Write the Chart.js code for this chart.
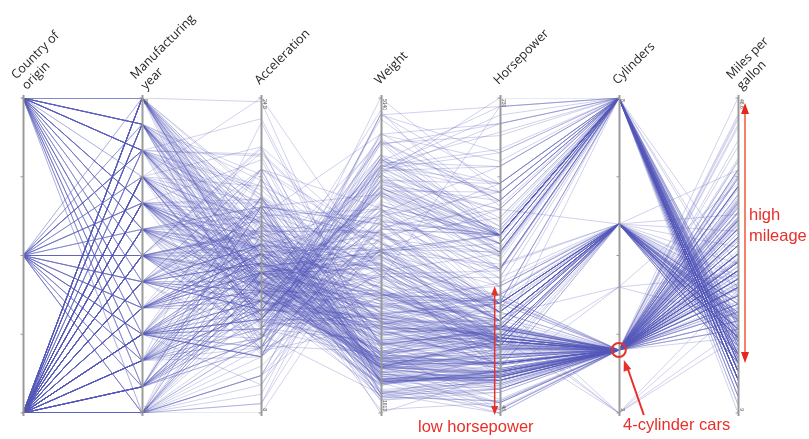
<!DOCTYPE html>
<html>
<head>
<meta charset="utf-8">
<script src="https://cdn.jsdelivr.net/npm/chart.js@4.4.0/dist/chart.umd.min.js"></script>
<style>
  body { margin: 0; background: #fff; }
  #wrap { width: 809px; height: 439px; }
</style>
</head>
<body>
<div id="wrap"><canvas id="myChart" width="809" height="439"></canvas></div>
<script>
// axis titles (one entry per line)
var dims = [['Country of', 'origin'], ['Manufacturing', 'year'], ['Acceleration'], ['Weight'], ['Horsepower'], ['Cylinders'], ['Miles per', 'gallon']];

// one value per car, grouped by model year 70..82
var origin = [
  1,1,1,1,1,1,1,1,1,1,1,1,1,1,3,1,1,1,3,2,2,2,2,2,1,1,1,1,1,
  3,1,3,1,1,1,1,1,1,1,1,1,1,1,1,1,1,1,1,1,2,2,2,3,3,2,1,
  3,1,2,1,1,1,1,1,1,1,1,1,1,1,3,1,1,1,1,2,2,2,2,1,3,3,1,3,
  1,1,1,1,1,1,1,1,1,1,1,1,1,1,1,1,1,2,1,1,1,1,1,3,1,3,3,1,1,2,1,1,2,2,2,2,1,2,3,1,
  1,1,1,3,1,3,1,1,1,1,1,1,1,1,1,2,2,2,3,3,1,2,2,3,3,2,
  1,1,1,1,1,1,1,1,1,1,1,1,1,1,1,3,1,1,1,3,2,3,1,2,1,2,2,2,2,3,
  2,2,1,1,2,1,1,1,1,1,1,1,1,1,1,2,3,1,1,1,1,2,3,3,1,2,1,2,3,2,1,1,1,1,
  3,1,2,1,3,1,1,1,1,1,1,1,1,1,1,1,1,2,1,3,1,1,1,3,2,3,2,3,
  2,1,3,3,3,1,1,1,1,1,1,1,1,1,1,1,1,1,1,1,1,1,1,3,3,1,3,1,1,3,2,2,2,2,2,3,
  1,1,1,1,1,1,1,1,1,1,1,1,1,2,3,1,1,2,1,2,1,1,1,3,2,1,1,1,1,
  2,3,1,3,1,1,1,1,2,3,3,3,3,3,1,3,2,2,2,2,3,3,2,3,3,2,3,
  1,1,1,1,1,3,1,3,3,3,3,3,1,1,1,2,3,3,3,3,2,2,3,3,1,1,1,1,
  1,1,1,1,1,1,1,2,3,3,1,1,3,3,3,3,3,3,1,1,1,1,3,1,1,1,2,1,1,1
];
var year = [
  70,70,70,70,70,70,70,70,70,70,70,70,70,70,70,70,70,70,70,70,70,70,70,70,70,70,70,70,70,
  71,71,71,71,71,71,71,71,71,71,71,71,71,71,71,71,71,71,71,71,71,71,71,71,71,71,71,
  72,72,72,72,72,72,72,72,72,72,72,72,72,72,72,72,72,72,72,72,72,72,72,72,72,72,72,72,
  73,73,73,73,73,73,73,73,73,73,73,73,73,73,73,73,73,73,73,73,73,73,73,73,73,73,73,73,73,73,73,73,73,73,73,73,73,73,73,73,
  74,74,74,74,74,74,74,74,74,74,74,74,74,74,74,74,74,74,74,74,74,74,74,74,74,74,
  75,75,75,75,75,75,75,75,75,75,75,75,75,75,75,75,75,75,75,75,75,75,75,75,75,75,75,75,75,75,
  76,76,76,76,76,76,76,76,76,76,76,76,76,76,76,76,76,76,76,76,76,76,76,76,76,76,76,76,76,76,76,76,76,76,
  77,77,77,77,77,77,77,77,77,77,77,77,77,77,77,77,77,77,77,77,77,77,77,77,77,77,77,77,
  78,78,78,78,78,78,78,78,78,78,78,78,78,78,78,78,78,78,78,78,78,78,78,78,78,78,78,78,78,78,78,78,78,78,78,78,
  79,79,79,79,79,79,79,79,79,79,79,79,79,79,79,79,79,79,79,79,79,79,79,79,79,79,79,79,79,
  80,80,80,80,80,80,80,80,80,80,80,80,80,80,80,80,80,80,80,80,80,80,80,80,80,80,80,
  81,81,81,81,81,81,81,81,81,81,81,81,81,81,81,81,81,81,81,81,81,81,81,81,81,81,81,81,
  82,82,82,82,82,82,82,82,82,82,82,82,82,82,82,82,82,82,82,82,82,82,82,82,82,82,82,82,82,82
];
var accel = [
  12,11.5,11,12,10.5,10,9,8.5,10,8.5,10,8,9.5,10,15,15.5,15.5,16,14.5,20.5,17.5,14.5,17.5,12.5,15,14,15,13.5,18.5,
  14.5,15.5,14,13,15.5,15.5,15.5,15.5,12,11.5,13.5,13,11.5,12,12,13.5,19,15,14.5,14,14,19.5,14.5,19,18,19,20.5,
  15.5,17,23.5,19.5,16.5,12,12,13.5,13,11.5,11,13.5,13.5,12.5,13.5,12.5,14,16,14,14.5,18,19.5,18,16,17,14.5,15,16.5,
  13,11.5,13,14.5,12.5,11.5,12,13,14.5,11,11,11,16.5,18,16,16.5,16,21,14,12.5,13,12.5,15,19,19.5,16.5,13.5,18.5,14,15.5,13,9.5,19.5,15.5,14,15.5,11,14,13.5,11,
  16.5,16,17,19,16.5,21,17,17,18,16.5,14,14.5,13.5,16,15.5,16.5,15.5,14.5,16.5,19,14.5,15.5,14,15,15.5,16,
  16,16,21,19.5,11.5,14,14.5,13.5,21,18.5,19,19,15,13.5,12,16,17,16,18.5,13.5,16.5,17,14.5,14,17,15,17,14.5,13.5,17.5,
  15.5,16.9,14.9,17.7,15.3,13,13,13.9,12.8,15.4,14.5,17.6,17.6,22.2,22.1,14.2,17.4,17.7,21,16.2,17.8,12.2,17,16.4,13.6,15.7,13.2,21.9,15.5,16.7,12.1,12,15,14,
  18.5,14.8,18.6,15.5,16.8,12.5,19,13.7,14.9,16.4,16.9,17.7,19,11.1,11.4,12.2,14.5,14.5,16,18.2,15.8,17,15.9,16.4,14.1,14.5,12.8,13.5,
  21.5,14.4,19.4,18.6,16.4,15.5,13.2,12.8,19.2,18.2,15.8,15.4,17.2,17.2,15.8,16.7,18.7,15.1,13.2,13.4,11.2,13.7,16.5,14.2,14.7,14.5,14.8,16.7,17.6,14.9,15.9,13.6,15.7,15.8,14.9,16.6,
  15.4,18.2,17.3,18.2,16.6,15.4,13.4,13.2,15.2,14.9,14.3,15,13,14,15.2,14.4,15,20.1,17.4,24.8,22.2,13.2,14.9,19.2,14.7,16,11.3,12.9,13.2,
  14.7,18.8,15.5,16.4,16.5,18.1,20.1,18.7,15.8,15.5,17.5,15,15.2,17.9,14.4,19.2,21.7,23.7,19.9,21.8,13.8,18,15.3,11.4,12.5,15.1,17,
  15.7,16.4,14.4,12.6,12.9,16.9,16.4,16.1,17.8,19.4,17.3,16,14.9,16.2,20.7,14.2,14.4,16.8,14.8,18.3,20.4,19.6,12.6,13.8,15.8,19,17.1,16.6,
  19.6,18.6,18,16.2,16,18,16.4,15.3,18.2,17.6,14.7,17.3,14.5,14.5,16.9,15,15.7,16.2,16.4,17,14.5,14.7,13.9,13,17.3,15.6,24.6,11.6,18.6,19.4
];
var weight = [
  3504,3693,3436,3433,3449,4341,4354,4312,4425,3850,3563,3609,3761,3086,2372,2833,2774,2587,2130,1835,2672,2430,2375,2234,2648,4615,4376,4382,4732,
  2130,2264,2228,2634,3439,3329,3302,3288,4209,4464,4154,4096,4955,4746,5140,2962,2408,3282,3139,2220,2123,2074,2065,1773,1613,1834,1955,
  2278,2126,2254,2408,2226,4274,4385,4135,4129,3672,4633,4502,4456,4422,2330,3892,4098,4294,4077,2933,2511,2979,2189,2395,2288,2506,2164,2100,
  4100,3672,3988,4042,3777,4952,4464,4363,4237,4735,4951,3821,3121,3278,2945,3021,2904,1950,4997,4906,4654,4499,2789,2279,2401,2379,2124,2310,2472,2265,4082,4278,1867,2158,2582,2868,3399,2660,2807,3664,
  3102,2901,3336,1950,2451,1836,2542,3781,3632,3613,4141,4699,4457,4638,4257,2219,1963,2300,1649,2003,2125,2108,2246,2489,2391,2000,
  3264,3459,3432,3158,4668,4440,4498,4657,3907,3897,3730,3785,3039,3221,3169,2171,2639,2914,2592,2702,2223,2545,2984,1937,3211,2694,2957,2945,2671,1795,
  2464,2220,2572,2255,2202,4215,4190,3962,4215,3233,3353,3012,3085,2035,2164,1937,1795,3651,3574,3645,3193,1825,1990,2155,2565,3150,3940,3270,2930,3820,4380,4055,3870,3755,
  2045,2155,1825,2300,1945,3880,4060,4140,4295,3520,3425,3630,3525,4220,4165,4325,4335,1940,2740,2265,2755,2051,2075,1985,2190,2815,2600,2720,
  1985,1800,1985,2070,1800,3365,3735,3570,3535,3155,2965,2720,3430,3210,3380,3070,3620,3410,3425,3445,3205,4080,2155,2560,2300,2230,2515,2745,2855,2405,2830,3140,2795,3410,1990,2135,
  3245,2990,2890,3265,3360,3840,3725,3955,3830,4360,4054,3605,3940,1925,1975,1915,2670,3530,3900,3190,3420,2200,2150,2020,2130,2670,2595,2700,2556,
  2144,1968,2120,2019,2678,2870,3003,3381,2188,2711,2542,2434,2265,2110,2800,2110,2085,2335,2950,3250,1850,2145,1845,2910,2420,2500,2290,
  2490,2635,2620,2725,2385,1755,1875,1760,2065,1975,2050,1985,2215,2045,2380,2190,2210,2350,2615,2635,3230,3160,2900,2930,3415,3725,3060,3465,
  2605,2640,2395,2575,2525,2735,2865,1980,2025,1970,2125,2125,2160,2205,2245,1965,1965,1995,2945,3015,2585,2835,2665,2370,2950,2790,2130,2295,2625,2720
];
var horsepower = [
  130,165,150,150,140,198,220,215,225,190,170,160,150,225,95,95,97,85,88,46,87,90,95,113,90,215,200,210,193,
  88,90,95,100,105,100,88,100,165,175,153,150,180,170,175,110,72,100,88,86,90,70,76,65,69,60,70,
  95,80,54,90,86,165,175,150,153,150,208,155,160,190,97,150,130,140,150,112,76,87,69,86,92,97,80,88,
  175,150,145,137,150,198,150,158,150,215,225,175,105,100,100,88,95,46,150,167,170,180,100,88,72,94,90,85,107,90,145,230,49,75,91,112,150,110,122,180,
  95,100,100,67,80,65,75,100,110,105,140,150,150,140,150,83,67,78,52,61,75,75,75,97,93,67,
  95,105,72,72,170,145,150,148,110,105,110,95,110,110,129,75,83,100,78,96,71,97,97,70,90,95,88,98,115,53,
  86,81,92,79,83,140,150,120,152,100,105,81,90,52,60,70,53,100,78,110,95,71,70,75,72,102,150,88,108,120,180,145,130,150,
  68,80,58,96,70,145,110,145,130,110,105,100,98,180,170,190,149,78,88,75,89,63,83,67,78,97,110,110,
  48,66,52,70,60,110,140,139,105,95,85,88,100,90,105,85,110,120,145,165,139,140,68,95,97,75,95,105,85,97,103,125,115,133,71,68,
  115,85,88,90,110,130,129,138,135,155,142,125,150,71,65,80,80,77,125,71,90,70,70,65,69,90,115,115,90,
  76,60,70,65,90,88,90,90,78,90,75,92,75,65,105,65,48,48,67,67,67,67,62,132,100,88,72,
  84,84,92,110,84,58,64,60,67,65,62,68,63,65,65,74,75,75,100,74,80,76,116,120,110,105,88,85,
  88,88,88,85,84,90,92,74,68,68,63,70,88,75,70,67,67,67,110,85,92,112,96,84,90,86,52,84,79,82
];
var cylinders = [
  8,8,8,8,8,8,8,8,8,8,8,8,8,8,4,6,6,6,4,4,4,4,4,4,6,8,8,8,8,
  4,4,4,6,6,6,6,6,8,8,8,8,8,8,8,6,4,6,6,4,4,4,4,4,4,4,4,
  4,4,4,4,4,8,8,8,8,8,8,8,8,8,3,8,8,8,8,4,4,4,4,4,4,4,4,4,
  8,8,8,8,8,8,8,8,8,8,8,8,6,6,6,6,6,4,8,8,8,8,6,4,4,4,3,4,6,4,8,8,4,4,4,4,8,4,6,8,
  6,6,6,4,4,4,4,6,6,6,8,8,8,8,8,4,4,4,4,4,4,4,4,4,4,4,
  6,6,6,6,8,8,8,8,6,6,6,6,6,8,8,4,4,6,4,4,4,4,6,4,6,4,4,4,4,4,
  4,4,4,4,4,8,8,8,8,6,6,6,6,4,4,4,4,6,6,6,6,4,4,4,4,4,8,4,6,6,8,8,8,8,
  4,4,4,4,4,8,8,8,8,6,6,6,6,8,8,8,8,4,4,4,4,4,4,4,4,6,4,3,
  4,4,4,4,4,8,8,8,6,6,6,4,6,6,6,6,6,6,8,6,8,8,4,4,4,4,4,4,4,4,5,6,4,6,4,4,
  6,6,4,6,6,8,8,8,8,8,8,8,8,4,4,4,4,5,8,4,8,4,4,4,4,4,6,6,4,
  4,4,4,4,4,4,4,6,4,4,4,4,4,4,4,4,4,4,5,4,4,4,4,6,3,4,4,
  4,4,4,6,4,4,4,4,4,4,4,4,4,4,4,4,4,4,4,4,4,6,6,6,6,8,6,6,
  4,4,4,4,4,4,4,4,4,4,4,4,4,4,4,4,4,4,6,6,4,6,4,4,4,4,4,4,4,4
];
var mpg = [
  18,15,18,16,17,15,14,14,14,15,15,14,15,14,24,22,18,21,27,26,25,24,25,26,21,10,10,11,9,
  27,28,25,19,16,17,19,18,14,14,14,14,12,13,13,18,22,19,18,23,28,30,30,31,35,27,26,
  24,25,23,20,21,13,14,15,14,17,11,13,12,13,19,15,13,13,14,18,22,21,26,22,28,23,28,27,
  13,14,13,14,15,12,13,13,14,13,12,13,18,16,18,18,23,26,11,12,13,12,18,20,21,22,18,19,21,26,15,16,29,24,20,19,15,24,20,11,
  20,19,15,31,26,32,25,16,16,18,16,13,14,14,14,29,26,26,31,32,28,24,26,24,26,31,
  19,18,15,15,16,15,16,14,17,16,15,18,21,20,13,29,23,20,23,24,25,24,18,29,19,23,23,22,25,33,
  28,25,25,26,27,17.5,16,15.5,14.5,22,22,24,22.5,29,24.5,29,33,20,18,18.5,17.5,29.5,32,28,26.5,20,13,19,19,16.5,16.5,13,13,13,
  31.5,30,36,25.5,33.5,17.5,17,15.5,15,17.5,20.5,19,18.5,16,15.5,15.5,16,29,24.5,26,25.5,30.5,33.5,30,30.5,22,21.5,21.5,
  43.1,36.1,32.8,39.4,36.1,19.9,19.4,20.2,19.2,20.5,20.2,25.1,20.5,19.4,20.6,20.8,18.6,18.1,19.2,17.7,18.1,17.5,30,27.5,27.2,30.9,21.1,23.2,23.8,23.9,20.3,17,21.6,16.2,31.5,29.5,
  21.5,19.8,22.3,20.2,20.6,17,17.6,16.5,18.2,16.9,15.5,19.2,18.5,31.9,34.1,35.7,27.4,25.4,23,27.2,23.9,34.2,34.5,31.8,37.3,28.4,28.8,26.8,33.5,
  41.5,38.1,32.1,37.2,28,26.4,24.3,19.1,34.3,29.8,31.3,37,32.2,46.6,27.9,40.8,44.3,43.4,36.4,30,44.6,33.8,29.8,32.7,23.7,35,32.4,
  27.2,26.6,25.8,23.5,30,39.1,39,35.1,32.3,37,37.7,34.1,34.7,34.4,29.9,33,33.7,32.4,32.9,31.6,28.1,30.7,25.4,24.2,22.4,26.6,20.2,17.6,
  28,27,34,31,29,27,24,36,37,31,38,36,36,36,34,38,32,38,25,38,26,22,32,36,27,27,44,32,28,31
];

var columns = [origin, year, accel, weight, horsepower, cylinders, mpg];
var lo = columns.map(function (c) { return Math.min.apply(null, c); });
var hi = columns.map(function (c) { return Math.max.apply(null, c); });
function norm(k, v) { return (v - lo[k]) / (hi[k] - lo[k]); }

var n = Math.min.apply(null, columns.map(function (c) { return c.length; }));
var datasets = [];
for (var i = 0; i < n; i++) {
  var row = [];
  for (var k = 0; k < columns.length; k++) row.push(norm(k, columns[k][i]));
  datasets.push({
    data: row,
    borderColor: 'rgba(84,90,186,0.27)',
    borderWidth: 1,
    pointRadius: 0,
    tension: 0,
    fill: false
  });
}

var RED = '#e8302a';

function arrowHead(ctx, x, y, dx, dy, len, half, color) {
  var l = Math.sqrt(dx * dx + dy * dy); dx /= l; dy /= l;
  ctx.beginPath();
  ctx.moveTo(x, y);
  ctx.lineTo(x - dx * len - dy * half, y - dy * len + dx * half);
  ctx.lineTo(x - dx * len + dy * half, y - dy * len - dx * half);
  ctx.closePath();
  ctx.fillStyle = color;
  ctx.fill();
}

var overlay = {
  id: 'overlay',
  afterDatasetsDraw: function (chart) {
    var ctx = chart.ctx, area = chart.chartArea;
    var xs = chart.scales.x, ys = chart.scales.y;
    ctx.save();
    for (var k = 0; k < dims.length; k++) {
      var x = Math.round(xs.getPixelForValue(k)) + 0.5;
      // axis bar
      ctx.strokeStyle = 'rgba(150,150,150,0.95)';
      ctx.lineWidth = 2;
      ctx.beginPath();
      ctx.moveTo(x, area.top - 3);
      ctx.lineTo(x, area.bottom + 3);
      ctx.stroke();
      // ticks
      ctx.lineWidth = 1;
      for (var t = 0; t <= 4; t++) {
        var ty = ys.getPixelForValue(t / 4);
        ctx.beginPath();
        ctx.moveTo(x - 3, ty);
        ctx.lineTo(x, ty);
        ctx.stroke();
      }
      // tiny min / max labels
      ctx.save();
      ctx.fillStyle = '#555';
      ctx.font = '5px "Liberation Sans"';
      ctx.translate(x + 1.5, area.top + 1);
      ctx.rotate(Math.PI / 2);
      ctx.textAlign = 'left';
      ctx.fillText(String(hi[k]), 0, 0);
      ctx.restore();
      ctx.save();
      ctx.fillStyle = '#555';
      ctx.font = '5px "Liberation Sans"';
      ctx.translate(x + 1.5, area.bottom - 2);
      ctx.rotate(Math.PI / 2);
      ctx.textAlign = 'right';
      ctx.fillText(String(lo[k]), 0, 0);
      ctx.restore();
      // axis title, rotated
      var lines = dims[k];
      ctx.save();
      ctx.translate(x - 2, area.top - 13);
      ctx.rotate(-Math.PI / 4);
      ctx.fillStyle = '#231f20';
      ctx.font = '12.5px "Open Sans"';
      ctx.textAlign = 'left';
      for (var j = 0; j < lines.length; j++) {
        ctx.fillText(lines[j], 0, (j - (lines.length - 1) / 2) * 15);
      }
      ctx.restore();
    }

    // low horsepower arrow
    var xh = xs.getPixelForValue(4) - 5;
    var yTop = ys.getPixelForValue(norm(4, 120));
    var yBot = area.bottom + 2;
    ctx.strokeStyle = RED;
    ctx.lineWidth = 1.5;
    ctx.beginPath();
    ctx.moveTo(xh, yTop + 6);
    ctx.lineTo(xh, yBot - 6);
    ctx.stroke();
    arrowHead(ctx, xh, yTop, 0, -1, 9, 3.5, RED);
    arrowHead(ctx, xh, yBot, 0, 1, 9, 3.5, RED);

    // 4-cylinder circle and pointer
    var xc = xs.getPixelForValue(5);
    var yc = ys.getPixelForValue(norm(5, 4));
    ctx.strokeStyle = RED;
    ctx.lineWidth = 2;
    ctx.beginPath();
    ctx.arc(xc, yc, 7, 0, Math.PI * 2);
    ctx.stroke();
    ctx.beginPath();
    ctx.moveTo(xc + 25, area.bottom + 2);
    ctx.lineTo(xc + 8, yc + 16);
    ctx.stroke();
    arrowHead(ctx, xc + 5, yc + 10, -17, -(area.bottom + 2 - yc - 16) , 11, 4, RED);

    // high mileage arrow
    var xm = xs.getPixelForValue(6) + 7;
    var mTop = area.top + 5, mBot = 363;
    ctx.strokeStyle = '#f4826a';
    ctx.lineWidth = 2;
    ctx.beginPath();
    ctx.moveTo(xm, mTop + 8);
    ctx.lineTo(xm, mBot - 8);
    ctx.stroke();
    arrowHead(ctx, xm, mTop, 0, -1, 11, 4, '#e4281f');
    arrowHead(ctx, xm, mBot, 0, 1, 11, 4, '#e4281f');

    // red captions
    ctx.fillStyle = RED;
    ctx.font = '16.5px "Liberation Sans"';
    ctx.textAlign = 'left';
    ctx.fillText('low horsepower', 418, 432);
    ctx.fillText('4-cylinder cars', 623, 430);
    ctx.fillText('high', 749, 220);
    ctx.fillText('mileage', 749, 241);
    ctx.restore();
  }
};

var ctx = document.getElementById('myChart').getContext('2d');
var chart = new Chart(ctx, {
  type: 'line',
  data: {
    labels: dims.map(function (d) { return d.join(' '); }),
    datasets: datasets
  },
  options: {
    responsive: false,
    animation: false,
    layout: { padding: { left: 23, right: 71, top: 98, bottom: 26 } },
    plugins: { legend: { display: false }, tooltip: { enabled: false } },
    scales: {
      x: { type: 'category', offset: false, display: false },
      y: { min: 0, max: 1, display: false }
    }
  },
  plugins: [overlay]
});
</script>
</body>
</html>
